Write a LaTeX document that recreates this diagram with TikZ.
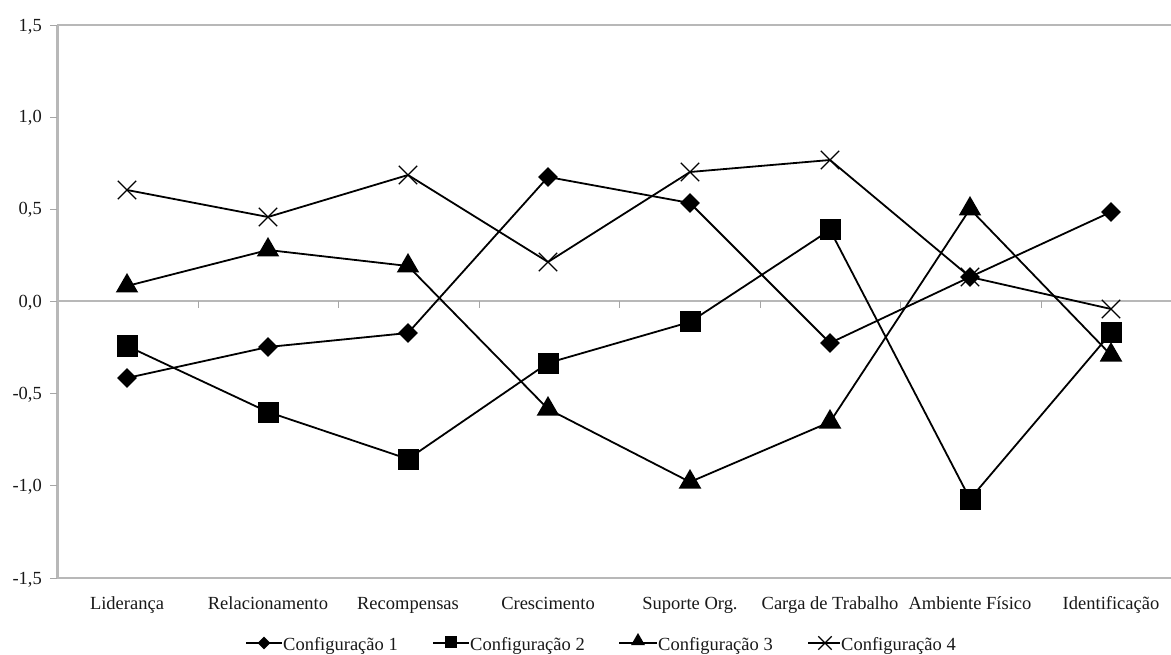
\documentclass[tikz,border=0pt]{standalone}
\usepackage{fontspec}
\setmainfont{Liberation Serif}
\usetikzlibrary{shapes.geometric,shapes.misc}
\begin{document}
\begin{tikzpicture}[x=1pt,y=-1pt,
  axisline/.style={draw=black!28,line width=3pt},
  gridl/.style={draw=black!28,line width=1.6pt},
  tickl/.style={draw=black!35,line width=0.8pt},
  series/.style={draw=black,line width=1.8pt},
  lseries/.style={draw=black,line width=2.2pt},
  lbl/.style={font=\fontsize{18.5}{21}\selectfont,text=black!90,inner sep=0pt},
  dia/.style={diamond,fill=black,draw=none,inner sep=0pt,minimum size=20pt},
  sq/.style={rectangle,fill=black,draw=none,inner sep=0pt,minimum size=21pt},
  tri/.style={regular polygon,regular polygon sides=3,fill=black,draw=none,inner sep=0pt,minimum size=26pt},
  xmk/.style={cross out,draw=black,line width=1.3pt,inner sep=0pt,minimum size=17pt},
  ldia/.style={diamond,fill=black,draw=none,inner sep=0pt,minimum size=13pt},
  lsq/.style={rectangle,fill=black,draw=none,inner sep=0pt,minimum size=12pt},
  ltri/.style={regular polygon,regular polygon sides=3,fill=black,draw=none,inner sep=0pt,minimum size=16pt},
  lxmk/.style={cross out,draw=black,line width=1.3pt,inner sep=0pt,minimum size=12pt}]
\useasboundingbox[fill=white] (0,0) rectangle (1171,655);
% axes and grid
\draw[gridl] (57,25) -- (1171,25);
\draw[gridl] (57,301) -- (1171,301);
\draw[gridl] (57,578) -- (1171,578);
\draw[axisline] (57,25) -- (57,579);
\foreach \y in {25,117,209,301,393,485,578} \draw[tickl] (50,\y) -- (57,\y);
\foreach \x in {198,338,479,619,760,900,1041} \draw[tickl] (\x,301) -- (\x,308);
% y labels
\node[lbl,anchor=base east] (y15) at (42,32) {1,5};
\node[lbl,anchor=base east] (y10) at (42,123) {1,0};
\node[lbl,anchor=base east] (y05) at (42,215) {0,5};
\node[lbl,anchor=base east] (y00) at (42,308) {0,0};
\node[lbl,anchor=base east] (ym05) at (42,399) {-0,5};
\node[lbl,anchor=base east] (ym10) at (42,491) {-1,0};
\node[lbl,anchor=base east] (ym15) at (42,584) {-1,5};
% category labels
\node[lbl,anchor=base] (c1) at (127,609) {Liderança};
\node[lbl,anchor=base] (c2) at (268,609) {Relacionamento};
\node[lbl,anchor=base] (c3) at (408,609) {Recompensas};
\node[lbl,anchor=base] (c4) at (548,609) {Crescimento};
\node[lbl,anchor=base] (c5) at (690,609) {Suporte Org.};
\node[lbl,anchor=base] (c6) at (830,609) {Carga de Trabalho};
\node[lbl,anchor=base] (c7) at (970,609) {Ambiente Físico};
\node[lbl,anchor=base] (c8) at (1111,609) {Identificação};
% Config 1 (diamond)
\node[dia] (a1) at (127,378) {};
\node[dia] (a2) at (268,347) {};
\node[dia] (a3) at (408,333) {};
\node[dia] (a4) at (548,177) {};
\node[dia] (a5) at (690,203) {};
\node[dia] (a6) at (830,343) {};
\node[dia] (a7) at (970,277) {};
\node[dia] (a8) at (1111,212) {};
% Config 2 (square)
\node[sq] (b1) at (127,346) {};
\node[sq] (b2) at (268,412) {};
\node[sq] (b3) at (408,459) {};
\node[sq] (b4) at (548,363) {};
\node[sq] (b5) at (690,322) {};
\node[sq] (b6) at (830,230) {};
\node[sq] (b7) at (970,499) {};
\node[sq] (b8) at (1111,333) {};
% Config 3 (triangle)
\node[tri] (t1) at (127,286) {};
\node[tri] (t2) at (268,250) {};
\node[tri] (t3) at (408,266) {};
\node[tri] (t4) at (548,409) {};
\node[tri] (t5) at (690,482) {};
\node[tri] (t6) at (830,422) {};
\node[tri] (t7) at (970,209) {};
\node[tri] (t8) at (1111,355) {};
% Config 4 (cross)
\node[xmk] (x1) at (127,190) {};
\node[xmk] (x2) at (268,217) {};
\node[xmk] (x3) at (408,175) {};
\node[xmk] (x4) at (548,262) {};
\node[xmk] (x5) at (690,172) {};
\node[xmk] (x6) at (830,160) {};
\node[xmk] (x7) at (970,277) {};
\node[xmk] (x8) at (1111,309) {};
% series lines
\draw[series] (a1.center) -- (a2.center) -- (a3.center) -- (a4.center) -- (a5.center) -- (a6.center) -- (a7.center) -- (a8.center);
\draw[series] (b1.center) -- (b2.center) -- (b3.center) -- (b4.center) -- (b5.center) -- (b6.center) -- (b7.center) -- (b8.center);
\draw[series] (t1.center) -- (t2.center) -- (t3.center) -- (t4.center) -- (t5.center) -- (t6.center) -- (t7.center) -- (t8.center);
\draw[series] (x1.center) -- (x2.center) -- (x3.center) -- (x4.center) -- (x5.center) -- (x6.center) -- (x7.center) -- (x8.center);
% legend
\coordinate (l1a) at (246,643); \coordinate (l1b) at (282,643);
\draw[lseries] (l1a) -- (l1b);
\node[ldia] (l1m) at (264,643) {};
\node[lbl,anchor=base west] (l1t) at (283,650) {Configuração 1};
\coordinate (l2a) at (433,643); \coordinate (l2b) at (469,643);
\draw[lseries] (l2a) -- (l2b);
\node[lsq] (l2m) at (451,642) {};
\node[lbl,anchor=base west] (l2t) at (470,650) {Configuração 2};
\coordinate (l3a) at (619,643); \coordinate (l3b) at (657,643);
\draw[lseries] (l3a) -- (l3b);
\node[ltri] (l3m) at (638,641) {};
\node[lbl,anchor=base west] (l3t) at (658,650) {Configuração 3};
\coordinate (l4a) at (808,643); \coordinate (l4b) at (840,643);
\draw[lseries] (l4a) -- (l4b);
\node[lxmk] (l4m) at (825,643) {};
\node[lbl,anchor=base west] (l4t) at (841,650) {Configuração 4};
\end{tikzpicture}
\end{document}
